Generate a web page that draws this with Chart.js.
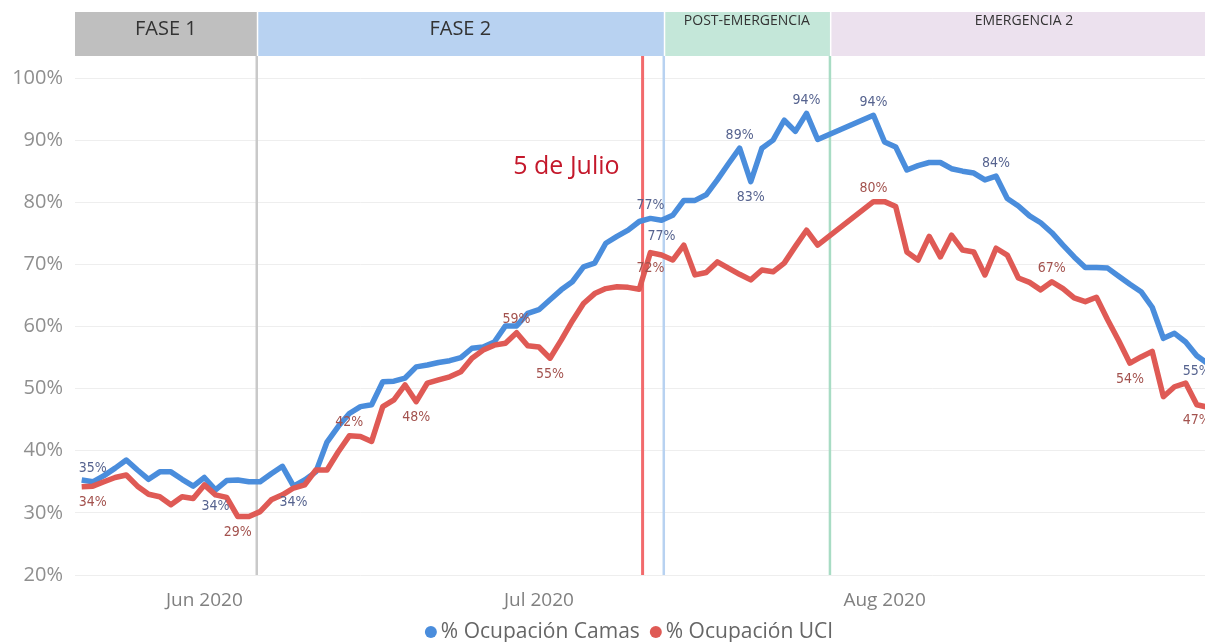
<!DOCTYPE html>
<html>
<head>
<meta charset="utf-8">
<script src="https://cdn.jsdelivr.net/npm/chart.js@4.4.1/dist/chart.umd.min.js"></script>
<style>
  html, body { margin: 0; padding: 0; background: #fff; overflow: hidden; }
  #wrap { width: 1205px; height: 642px; overflow: hidden; }
</style>
</head>
<body>
<div id="wrap"><canvas id="ocupacion" width="1222" height="642"></canvas></div>
<script>
// series, one value per day starting 16 May 2020 (null = no data that day)
const camas = [
  35.3, 35.0, 36.0, 37.2, 38.5, 36.9, 35.4, 36.6, 36.6, 35.4,
  34.3, 35.7, 33.7, 35.2, 35.3, 35.0, 35.0, 36.3, 37.5, 34.3,
  35.3, 36.6, 41.4, 43.9, 46.0, 47.1, 47.4, 51.1, 51.2, 51.7,
  53.5, 53.8, 54.2, 54.5, 55.0, 56.5, 56.7, 57.5, 60.1, 60.1,
  62.1, 62.7, 64.3, 65.9, 67.2, 69.6, 70.2, 73.4, 74.5, 75.5,
  76.9, 77.4, 77.1, 77.9, 80.3, 80.3, 81.2, 83.6, 86.2, 88.7,
  83.3, 88.7, 90.0, 93.2, 91.4, 94.3, 90.1, null, null, null,
  null, 94.0, 89.7, 88.9, 85.2, 85.9, 86.4, 86.4, 85.4, 85.0,
  84.7, 83.6, 84.2, 80.6, 79.4, 77.8, 76.7, 75.1, 73.1, 71.2,
  69.5, 69.5, 69.4, 68.1, 66.8, 65.6, 63.1, 58.1, 58.9, 57.5,
  55.3, 54.0
];
const uci = [
  34.2, 34.3, 35.0, 35.7, 36.1, 34.3, 33.0, 32.6, 31.3, 32.6,
  32.3, 34.5, 32.9, 32.5, 29.4, 29.4, 30.2, 32.1, 32.9, 34.0,
  34.5, 36.9, 36.9, 39.8, 42.4, 42.3, 41.5, 47.1, 48.2, 50.6,
  47.9, 50.9, 51.4, 51.9, 52.7, 54.9, 56.2, 57.0, 57.3, 59.0,
  56.9, 56.7, 54.9, 57.8, 60.9, 63.7, 65.3, 66.1, 66.4, 66.3,
  66.0, 71.9, 71.5, 70.7, 73.1, 68.3, 68.7, 70.4, 69.4, 68.4,
  67.5, 69.1, 68.8, 70.2, 72.9, 75.5, 73.1, null, null, null,
  null, 80.1, 80.1, 79.3, 72.0, 70.7, 74.5, 71.2, 74.7, 72.3,
  72.0, 68.3, 72.6, 71.5, 67.8, 67.1, 65.9, 67.2, 66.1, 64.6,
  64.0, 64.7, 61.1, 57.7, 54.1, 55.1, 56.0, 48.7, 50.3, 50.9,
  47.4, 47.0
];
const seriesNames = ['% Ocupación Camas', '% Ocupación UCI'];

const dates = camas.map((_, i) => {
  const d = new Date(2020, 4, 16 + i);
  return d.getDate() + '/' + (d.getMonth() + 1) + '/2020';
});

// x axis month labels and the day index where each one sits
const monthLabels = ['Jun 2020', 'Jul 2020', 'Aug 2020'];
const monthTickDays = [11, 41, 72];
const yTicks = [20, 30, 40, 50, 60, 70, 80, 90, 100];

// phases (day index where each one starts)
const phaseNames = ['FASE 1', 'FASE 2', 'POST-EMERGENCIA', 'EMERGENCIA 2'];
const phaseStarts = [-0.6, 15.7, 52.2, 67.1];
const markerLabel = '5 de Julio';
const markerDay = 50.3;

// which points carry a value label
const camasLabelDays = [1, 12, 19, 51, 52, 59, 60, 65, 71, 82, 100];
const uciLabelDays = [1, 14, 24, 30, 39, 42, 51, 71, 87, 94, 100];

// ---- styles ----
const BLUE = '#4a8ddc';
const RED = '#df5a55';
const phaseFill = ['#bfbfbf', '#b8d2f1', '#c4e7d9', '#ece1ee'];
const phaseLine = ['#bfbfbf', '#c9c9c9', '#b8d2f1', '#a8dcc4'];
const phaseFont = ['20px', '20px', '14px', '14px'];
const phaseTextY = [29, 29, 21, 21];
const camasLabelBelow = [false, true, true, false, true, false, true, false, false, false, true];
const uciLabelBelow = [true, true, false, true, false, true, true, false, false, true, true];
const FONT = '"Open Sans", "Noto Sans", sans-serif';
const LABEL_FONT = '"DejaVu Sans Condensed", "Liberation Sans Narrow", sans-serif';

const toPoints = arr => arr.map((v, i) => ({ x: i, y: v }));

const phasesPlugin = {
  id: 'phases',
  beforeDatasetsDraw(chart) {
    const { ctx, chartArea, scales: { x } } = chart;
    const bandTop = chartArea.top - 66;
    const bandBottom = chartArea.top - 22;
    ctx.save();
    phaseNames.forEach((name, i) => {
      const x0 = x.getPixelForValue(phaseStarts[i]);
      const x1 = i < phaseNames.length - 1 ? x.getPixelForValue(phaseStarts[i + 1]) : chartArea.right;
      const gap = i > 0 ? 1.5 : 0;
      ctx.fillStyle = phaseFill[i];
      ctx.fillRect(x0 + gap, bandTop, x1 - x0 - gap, bandBottom - bandTop);
      ctx.fillStyle = '#333';
      ctx.font = phaseFont[i] + ' ' + FONT;
      ctx.textAlign = 'center';
      ctx.textBaseline = 'middle';
      ctx.fillText(name, (x0 + x1) / 2, phaseTextY[i]);
      if (i > 0) {
        ctx.strokeStyle = phaseLine[i];
        ctx.lineWidth = 2.5;
        ctx.beginPath();
        ctx.moveTo(x0, bandBottom);
        ctx.lineTo(x0, chartArea.bottom);
        ctx.stroke();
      }
    });
    // 5 de Julio marker
    const mx = x.getPixelForValue(markerDay);
    ctx.strokeStyle = '#f26a6c';
    ctx.lineWidth = 3;
    ctx.beginPath();
    ctx.moveTo(mx, bandBottom);
    ctx.lineTo(mx, chartArea.bottom);
    ctx.stroke();
    ctx.fillStyle = '#c4182b';
    ctx.font = '25px ' + FONT;
    ctx.textAlign = 'right';
    ctx.textBaseline = 'middle';
    ctx.fillText(markerLabel, mx - 23, 167);
    ctx.restore();
  }
};

const valueLabelsPlugin = {
  id: 'valueLabels',
  afterDatasetsDraw(chart) {
    const { ctx } = chart;
    const specs = [
      { ds: 0, days: camasLabelDays, below: camasLabelBelow, color: '#56638f', values: camas },
      { ds: 1, days: uciLabelDays, below: uciLabelBelow, color: '#a3524e', values: uci }
    ];
    ctx.save();
    ctx.font = '14px ' + LABEL_FONT;
    ctx.textAlign = 'center';
    ctx.textBaseline = 'middle';
    specs.forEach(s => {
      const meta = chart.getDatasetMeta(s.ds);
      s.days.forEach((d, k) => {
        const el = meta.data[d];
        ctx.fillStyle = s.color;
        ctx.fillText(Math.round(s.values[d]) + '%', el.x, el.y + (s.below[k] ? 16 : -13));
      });
    });
    ctx.restore();
  }
};

const legendPlugin = {
  id: 'bottomLegend',
  afterDraw(chart) {
    const { ctx } = chart;
    const colors = [BLUE, RED];
    ctx.save();
    ctx.font = '21px ' + FONT;
    ctx.textBaseline = 'middle';
    const widths = seriesNames.map(n => ctx.measureText(n).width);
    const itemGap = 10, dot = 6, dotGap = 4;
    const total = widths.reduce((a, w) => a + 2 * dot + dotGap + w, 0) + itemGap;
    let cx = 629 - total / 2;
    const cy = 632;
    seriesNames.forEach((n, i) => {
      ctx.fillStyle = colors[i];
      ctx.beginPath();
      ctx.arc(cx + dot, cy, dot, 0, Math.PI * 2);
      ctx.fill();
      cx += 2 * dot + dotGap;
      ctx.fillStyle = '#666';
      ctx.fillText(n, cx, cy);
      cx += widths[i] + itemGap;
    });
    ctx.restore();
  }
};

new Chart(document.getElementById('ocupacion'), {
  type: 'line',
  data: {
    datasets: [
      {
        label: seriesNames[0],
        data: toPoints(camas),
        borderColor: BLUE,
        backgroundColor: BLUE,
        borderWidth: 5.5,
        pointRadius: 0,
        spanGaps: true,
        borderJoinStyle: 'round',
        order: 1
      },
      {
        label: seriesNames[1],
        data: toPoints(uci),
        borderColor: RED,
        backgroundColor: RED,
        borderWidth: 5.5,
        pointRadius: 0,
        spanGaps: true,
        borderJoinStyle: 'round',
        order: 0
      }
    ]
  },
  options: {
    responsive: false,
    animation: false,
    layout: { padding: { top: 78, right: 4, left: 0, bottom: 0 } },
    plugins: {
      legend: { display: false },
      tooltip: {
        callbacks: { title: items => dates[items[0].parsed.x] }
      }
    },
    scales: {
      x: {
        type: 'linear',
        min: -0.6,
        max: 101.9,
        grid: { display: false },
        border: { display: false },
        afterBuildTicks: axis => { axis.ticks = monthTickDays.map(v => ({ value: v })); },
        afterFit: axis => { axis.height = 67; },
        ticks: {
          autoSkip: false,
          maxRotation: 0,
          padding: 6,
          color: '#808080',
          font: { family: FONT, size: 19 },
          callback: v => monthLabels[monthTickDays.indexOf(v)]
        }
      },
      y: {
        min: 20,
        max: 100,
        grid: { color: '#eeeeee', drawTicks: false },
        border: { display: false },
        afterBuildTicks: axis => { axis.ticks = yTicks.map(v => ({ value: v })); },
        afterFit: axis => { axis.width = 75; },
        ticks: {
          padding: 12,
          color: '#8f8f8f',
          font: { family: FONT, size: 20 },
          callback: v => v + '%'
        }
      }
    }
  },
  plugins: [phasesPlugin, valueLabelsPlugin, legendPlugin]
});
</script>
</body>
</html>
